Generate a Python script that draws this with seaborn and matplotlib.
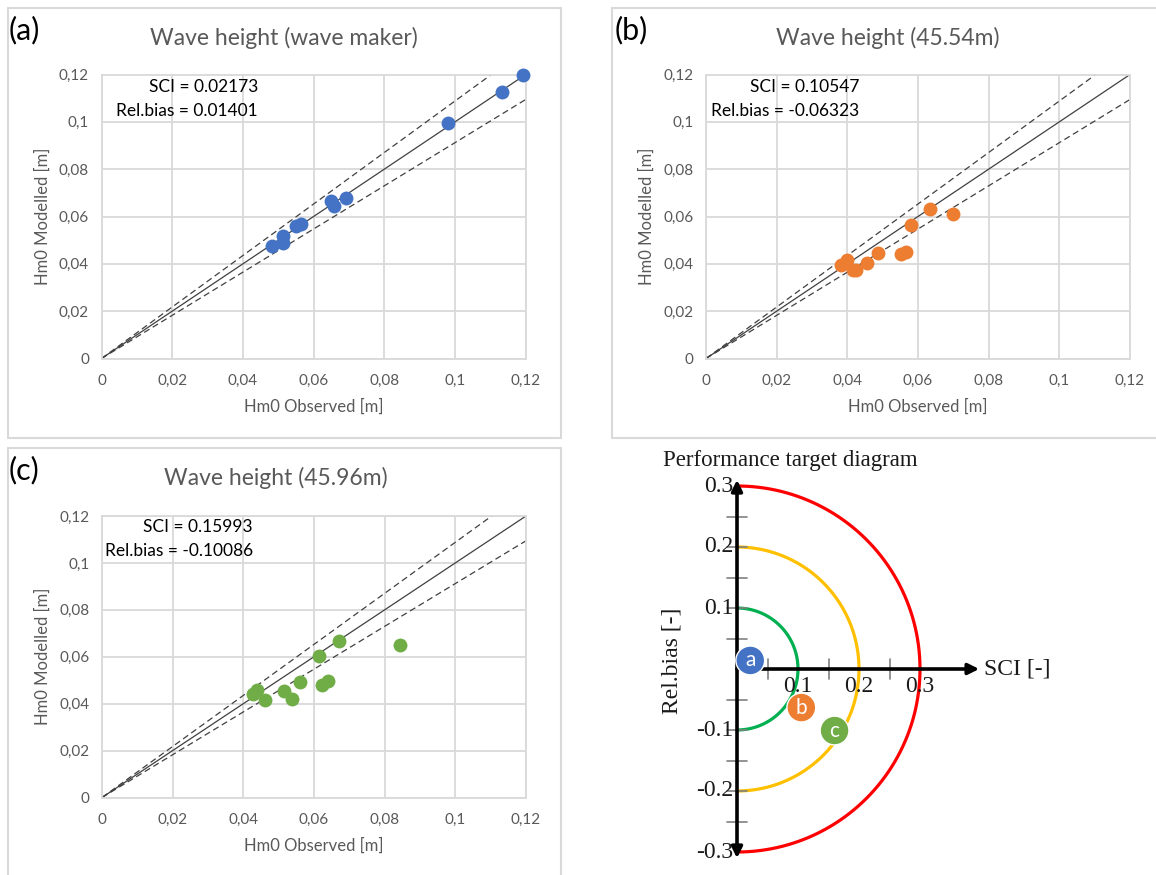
import matplotlib
matplotlib.use("Agg")
import matplotlib.pyplot as plt
import seaborn as sns
import numpy as np
from matplotlib.ticker import FuncFormatter, MultipleLocator
from matplotlib.lines import Line2D

# ---------------- data ----------------
a_obs = [0.0482, 0.0514, 0.0514, 0.0550, 0.0563, 0.0650, 0.0657, 0.0692, 0.0980, 0.1132, 0.1193]
a_mod = [0.0477, 0.0518, 0.0490, 0.0561, 0.0568, 0.0665, 0.0643, 0.0679, 0.0993, 0.1126, 0.1197]

b_obs = [0.0381, 0.0400, 0.0417, 0.0424, 0.0455, 0.0487, 0.0552, 0.0567, 0.0579, 0.0633, 0.0700]
b_mod = [0.0393, 0.0418, 0.0372, 0.0375, 0.0402, 0.0447, 0.0440, 0.0450, 0.0566, 0.0631, 0.0610]

c_obs = [0.0428, 0.0439, 0.0461, 0.0515, 0.0539, 0.0560, 0.0615, 0.0624, 0.0640, 0.0671, 0.0844]
c_mod = [0.0443, 0.0457, 0.0414, 0.0452, 0.0420, 0.0491, 0.0604, 0.0478, 0.0495, 0.0669, 0.0648]

panel_tags = ["(a)", "(b)", "(c)"]
panel_titles = ["Wave height (wave maker)", "Wave height (45.54m)", "Wave height (45.96m)"]
sci_values = [0.02173, 0.10547, 0.15993]
bias_values = [0.01401, -0.06323, -0.10086]
point_letters = ["a", "b", "c"]

band_upper = 1.088   # upper dashed reference line (y = k x)
band_lower = 0.912   # lower dashed reference line
target_radii = [0.1, 0.2, 0.3]
target_colors = ["#00B050", "#FFC000", "#FF0000"]
target_ticks = [0.1, 0.2, 0.3]

colors = ["#4472C4", "#ED7D31", "#70AD47"]

# ---------------- style ----------------
sns.set_theme(style="white")
plt.rcParams["font.family"] = ["Lato", "DejaVu Sans"]

W, H = 1156, 875
fig = plt.figure(figsize=(W / 100, H / 100), dpi=100)


def rect(l, t, r, b):
    return [l / W, 1 - b / H, (r - l) / W, (b - t) / H]


def fx(x):
    return x / W


def fy(y):
    return 1 - y / H


def frame(l, t, r, b, sides="ltrb"):
    kw = dict(color="#D9D9D9", lw=1.5, transform=fig.transFigure, clip_on=False)
    if "l" in sides:
        fig.add_artist(Line2D([fx(l), fx(l)], [fy(t), fy(b)], **kw))
    if "r" in sides:
        fig.add_artist(Line2D([fx(r), fx(r)], [fy(t), fy(b)], **kw))
    if "t" in sides:
        fig.add_artist(Line2D([fx(l), fx(r)], [fy(t), fy(t)], **kw))
    if "b" in sides:
        fig.add_artist(Line2D([fx(l), fx(r)], [fy(b), fy(b)], **kw))


comma_fmt = FuncFormatter(lambda v, _: f"{v:g}".replace(".", ","))
grey = "#595959"

layout = [
    # plot box (l, t, r, b), title centre, tag pos, stats right edge / rows, chart frame
    dict(box=(101.5, 74.5, 525.7, 358.5), title=(284, 38), tag=(9, 30),
         stats=(258, 87, 111), frame=(7.5, 8, 560.5, 437.5, "ltrb")),
    dict(box=(706, 74.5, 1130, 358.5), title=(888, 38), tag=(615, 30),
         stats=(859, 87, 111), frame=(611.7, 7.5, 1200, 437.5, "ltb")),
    dict(box=(102, 516, 526, 797.5), title=(276, 478), tag=(9, 470),
         stats=(253, 527, 551), frame=(7.5, 448.3, 560.5, 900, "ltr")),
]
obs_sets = [a_obs, b_obs, c_obs]
mod_sets = [a_mod, b_mod, c_mod]

for i, lay in enumerate(layout):
    frame(*lay["frame"])
    ax = fig.add_axes(rect(*lay["box"]))
    ax.set_facecolor("white")
    xs = np.array([0.0, 0.12])
    ax.plot(xs, xs, color="#404040", lw=0.9, zorder=2)
    ax.plot(xs, band_upper * xs, color="#404040", lw=0.9, ls=(0, (5, 3)), zorder=2)
    ax.plot(xs, band_lower * xs, color="#404040", lw=0.9, ls=(0, (5, 3)), zorder=2)
    sns.scatterplot(x=obs_sets[i], y=mod_sets[i], ax=ax, color=colors[i],
                    s=100, linewidth=0, zorder=3, clip_on=False)
    ax.set_xlim(0, 0.12)
    ax.set_ylim(0, 0.12)
    ax.xaxis.set_major_locator(MultipleLocator(0.02))
    ax.yaxis.set_major_locator(MultipleLocator(0.02))
    ax.xaxis.set_major_formatter(comma_fmt)
    ax.yaxis.set_major_formatter(comma_fmt)
    ax.grid(True, color="#D9D9D9", lw=1.3, zorder=0)
    ax.set_axisbelow(True)
    for s in ax.spines.values():
        s.set_color("#D9D9D9")
        s.set_linewidth(1.3)
    ax.tick_params(axis="both", length=0, labelsize=11, colors=grey)
    ax.tick_params(axis="x", pad=11)
    ax.tick_params(axis="y", pad=9)
    ax.set_xlabel("Hm0 Observed [m]", color=grey, fontsize=12, labelpad=8)
    ax.set_ylabel("Hm0 Modelled [m]", color=grey, fontsize=12, labelpad=6)

    tx, ty = lay["title"]
    fig.text(fx(tx), fy(ty), panel_titles[i], ha="center", va="center",
             fontsize=16.5, color=grey)
    gx, gy = lay["tag"]
    fig.text(fx(gx), fy(gy), panel_tags[i], ha="left", va="center",
             fontsize=22, color="black")
    sx, sy1, sy2 = lay["stats"]
    fig.text(fx(sx), fy(sy1), f"SCI = {sci_values[i]:.5f}", ha="right",
             va="center", fontsize=12.5, color="black")
    fig.text(fx(sx), fy(sy2), f"Rel.bias = {bias_values[i]:.5f}", ha="right",
             va="center", fontsize=12.5, color="black")

# ---------------- performance target diagram ----------------
scale = 610.0          # pixels per unit on both diagram axes
ox, oy = 737.0, 669.0  # pixel location of the origin
L, T, R, B = 630, 445, 1100, 875
tax = fig.add_axes(rect(L, T, R, B))
tax.set_xlim(-(ox - L) / scale, (R - ox) / scale)
tax.set_ylim(-(B - oy) / scale, (oy - T) / scale)
tax.axis("off")

serif = ["Liberation Serif", "DejaVu Serif"]
theta = np.linspace(-np.pi / 2, np.pi / 2, 300)
for r, c in zip(target_radii, target_colors):
    tax.plot(r * np.cos(theta), r * np.sin(theta), color=c, lw=2.3, zorder=2)

# small tick marks along both axes
tl = 0.016
for v in np.arange(-0.25, 0.26, 0.05):
    if abs(v) > 1e-9:
        tax.plot([-tl, tl], [v, v], color="#808080", lw=1.2, zorder=3)
for v in [0.05, 0.15, 0.25]:
    tax.plot([v, v], [-tl, tl], color="#808080", lw=1.2, zorder=3)

# axes with arrow heads
tax.annotate("", xy=(0, 0.31), xytext=(0, -0.31),
             arrowprops=dict(arrowstyle="<|-|>", color="black", lw=2.6,
                             mutation_scale=16, shrinkA=0, shrinkB=0), zorder=4)
tax.annotate("", xy=(0.397, 0), xytext=(0, 0),
             arrowprops=dict(arrowstyle="-|>", color="black", lw=2.6,
                             mutation_scale=16, shrinkA=0, shrinkB=0), zorder=4)

for v in target_ticks:
    tax.text(-0.006, v, f"{v:.1f}", ha="right", va="center", fontsize=17,
             family=serif, color="#1a1a1a")
    tax.text(-0.006, -v, f"-{v:.1f}", ha="right", va="center", fontsize=17,
             family=serif, color="#1a1a1a")
    tax.text(v, -0.012, f"{v:.1f}", ha="center", va="top", fontsize=17,
             family=serif, color="#1a1a1a")

tax.text(0.405, 0, "SCI [-]", ha="left", va="center", fontsize=17,
         family=serif, color="#1a1a1a")
tax.text(-0.107, 0.013, "Rel.bias [-]", ha="center", va="center", rotation=90,
         fontsize=17, family=serif, color="#1a1a1a")
fig.text(fx(790), fy(461), "Performance target diagram", ha="center",
         va="center", fontsize=16.5, family=serif, color="#1a1a1a")

sns.scatterplot(x=sci_values, y=bias_values, ax=tax, hue=point_letters,
                palette=colors, s=430, edgecolor="white", linewidth=1.0,
                zorder=5, legend=False, clip_on=False)
for x, y, t in zip(sci_values, bias_values, point_letters):
    tax.text(x, y, t, ha="center", va="center", color="white", fontsize=15,
             zorder=6)

fig.savefig("out.png", dpi=100)
